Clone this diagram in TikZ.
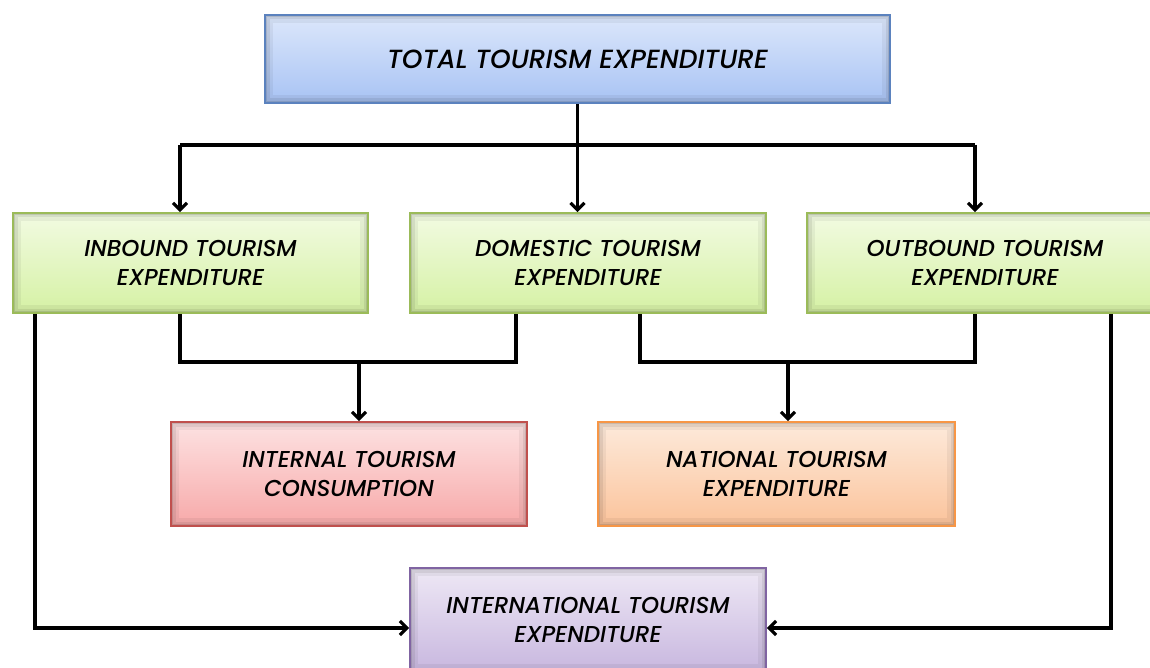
\documentclass[tikz,border=0pt]{standalone}
\usepackage{fontspec}
\setmainfont{Poppins}
\newfontfamily\boxfont{Poppins Medium Italic}
\usetikzlibrary{arrows.meta,positioning}
\definecolor{bluetop}{HTML}{DCE7FB}
\definecolor{bluebot}{HTML}{A8C3F4}
\definecolor{blueln}{HTML}{5B82BE}
\definecolor{greentop}{HTML}{F2FBE2}
\definecolor{greenbot}{HTML}{D5F1A4}
\definecolor{greenln}{HTML}{9BBB59}
\definecolor{redtop}{HTML}{FDE2E2}
\definecolor{redbot}{HTML}{F7A9A9}
\definecolor{redln}{HTML}{C0504D}
\definecolor{orgtop}{HTML}{FDEADB}
\definecolor{orgbot}{HTML}{FBC39B}
\definecolor{orgln}{HTML}{F79646}
\definecolor{purtop}{HTML}{EEE8F5}
\definecolor{purbot}{HTML}{C8B7DF}
\definecolor{purln}{HTML}{8064A2}
\tikzset{
  x=1pt,y=-1pt,
  boxbase/.style={rectangle, draw, line width=1.6pt, align=center, inner sep=0pt,
    font=\fontsize{23}{29}\selectfont\boxfont, text=black,
    path picture={
      \draw[black, opacity=0.05, line width=16pt] (path picture bounding box.south west) rectangle (path picture bounding box.north east);
      \draw[black, opacity=0.07, line width=9pt] (path picture bounding box.south west) rectangle (path picture bounding box.north east);
      \draw[black, opacity=0.10, line width=4pt] (path picture bounding box.south west) rectangle (path picture bounding box.north east);
    }},
  bluebox/.style={boxbase, draw=blueln, top color=bluetop, bottom color=bluebot},
  greenbox/.style={boxbase, draw=greenln, top color=greentop, bottom color=greenbot},
  redbox/.style={boxbase, draw=redln, top color=redtop, bottom color=redbot},
  orgbox/.style={boxbase, draw=orgln, top color=orgtop, bottom color=orgbot},
  purbox/.style={boxbase, draw=purln, top color=purtop, bottom color=purbot},
  conn/.style={line width=3.2pt, black},
  arr/.style={conn, -{Straight Barb[length=7pt,width=14pt,line width=3.2pt]}},
}
\begin{document}
\begin{tikzpicture}
\useasboundingbox (0,0) rectangle (1150,668);
\fill[white] (0,0) rectangle (1150,668);
% nodes
\node[bluebox, minimum width=625pt, minimum height=88pt, font=\fontsize{26.3}{29}\selectfont\boxfont] (total) at (577.5,59) {TOTAL TOURISM EXPENDITURE};
\node[greenbox, minimum width=355pt, minimum height=100pt] (inb) at (190.5,263) {INBOUND TOURISM\\EXPENDITURE};
\node[greenbox, minimum width=356pt, minimum height=100pt] (dom) at (588,263) {DOMESTIC TOURISM\\EXPENDITURE};
\node[greenbox, minimum width=356pt, minimum height=100pt] (outb) at (985,263) {OUTBOUND TOURISM\\EXPENDITURE};
\node[redbox, minimum width=356pt, minimum height=104pt] (itc) at (349,474) {INTERNAL TOURISM\\CONSUMPTION};
\node[orgbox, minimum width=357pt, minimum height=104pt] (nte) at (776.5,474) {NATIONAL TOURISM\\EXPENDITURE};
\node[purbox, minimum width=356pt, minimum height=104pt] (ite) at (588,620) {INTERNATIONAL TOURISM\\EXPENDITURE};
% junction coordinates
\coordinate (jtop) at (577.5,145);
\coordinate (jl) at (180,145);
\coordinate (jr) at (975,145);
\coordinate (ja) at (180,362);
\coordinate (jb) at (516,362);
\coordinate (jc) at (359,362);
\coordinate (jd) at (640,362);
\coordinate (je) at (975,362);
\coordinate (jf) at (788,362);
\coordinate (jg) at (35,628);
\coordinate (jh) at (1111,628);
% top distribution
\draw[conn] (total.south -| jtop) -- (jtop);
\draw[conn] (jl) -- (jr);
\draw[arr] (jl) -- (jl |- inb.north);
\draw[arr] (jtop) -- (jtop |- dom.north);
\draw[arr] (jr) -- (jr |- outb.north);
% internal
\draw[conn] (ja |- inb.south) -- (ja) -- (jb) -- (jb |- dom.south);
\draw[arr] (jc) -- (jc |- itc.north);
% national
\draw[conn] (jd |- dom.south) -- (jd) -- (je) -- (je |- outb.south);
\draw[arr] (jf) -- (jf |- nte.north);
% international
\draw[arr] (jg |- inb.south) -- (jg) -- (jg -| ite.west);
\draw[arr] (jh |- outb.south) -- (jh) -- (jh -| ite.east);
\end{tikzpicture}
\end{document}
